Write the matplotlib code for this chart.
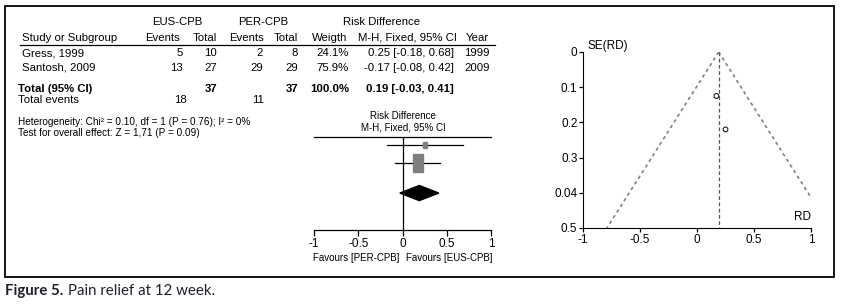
import matplotlib
matplotlib.use("Agg")
import matplotlib.pyplot as plt
import numpy as np
from matplotlib.patches import Rectangle, Polygon

# ---- data ----
studies = ["Gress, 1999", "Santosh, 2009"]
eus_events = [5, 13]
eus_total = [10, 27]
per_events = [2, 29]
per_total = [8, 29]
weights = [24.1, 75.9]
rd = [0.25, 0.17]            # plotted estimates
rd_printed = ["0.25", "-0.17"]  # as printed in the table
ci_lo = [-0.18, -0.08]
ci_hi = [0.68, 0.42]
years = [1999, 2009]
se_rd = [0.22, 0.125]

tot_eus, tot_per = 37, 37
ev_eus, ev_per = 18, 11
pooled, pooled_lo, pooled_hi = 0.19, -0.03, 0.41

rd_ticks = [-1, -0.5, 0, 0.5, 1]
rd_ticklabels = ["-1", "-0.5", "0", "0.5", "1"]
se_ticks = [0, 0.1, 0.2, 0.3, 0.4, 0.5]
se_ticklabels = ["0", "0.1", "0.2", "0.3", "0.04", "0.5"]

W, H = 850, 307
plt.rcParams["font.family"] = ["Liberation Sans Narrow", "Liberation Sans", "DejaVu Sans"]

fig = plt.figure(figsize=(W / 100, H / 100), dpi=100)


def fx(x):
    return x / W


def fy(y):
    return 1 - y / H


def put(x, y, s, ha="left", size=8, weight="normal", **kw):
    fig.text(fx(x), fy(y), s, ha=ha, va="center", fontsize=size, fontweight=weight, **kw)


# outer frame
fig.add_artist(Rectangle((fx(5), fy(277)), fx(834) - fx(5), fy(6) - fy(277),
                         transform=fig.transFigure, fill=False, lw=1.3, ec="black"))

# ---- table ----
fs = 8.2
put(177, 22, "EUS-CPB", ha="center", size=fs)
put(263, 22, "PER-CPB", ha="center", size=fs)
put(382, 22, "Risk Difference", ha="center", size=fs)
put(22, 38, "Study or Subgroup", size=fs)
put(163, 38, "Events", ha="center", size=fs)
put(217, 38, "Total", ha="right", size=fs)
put(247, 38, "Events", ha="center", size=fs)
put(298, 38, "Total", ha="right", size=fs)
put(330, 38, "Weigth", ha="center", size=fs)
put(407, 38, "M-H, Fixed, 95% CI", ha="center", size=fs)
put(477, 38, "Year", ha="center", size=fs)
fig.add_artist(plt.Line2D([fx(20), fx(495)], [fy(45), fy(45)], transform=fig.transFigure,
                          color="black", lw=0.9))

row_y = [53, 68]
for i, name in enumerate(studies):
    y = row_y[i]
    put(22, y, name, size=fs)
    put(183, y, str(eus_events[i]), ha="right", size=fs)
    put(217, y, str(eus_total[i]), ha="right", size=fs)
    put(263, y, str(per_events[i]), ha="right", size=fs)
    put(298, y, str(per_total[i]), ha="right", size=fs)
    put(349, y, f"{weights[i]:.1f}%", ha="right", size=fs)
    put(454, y, f"{rd_printed[i]} [{ci_lo[i]:.2f}, {ci_hi[i]:.2f}]", ha="right", size=fs)
    put(490, y, str(years[i]), ha="right", size=fs)

put(18, 89, "Total (95% CI)", size=fs, weight="bold")
put(217, 89, str(tot_eus), ha="right", size=fs, weight="bold")
put(298, 89, str(tot_per), ha="right", size=fs, weight="bold")
put(349, 89, f"{sum(weights):.1f}%", ha="right", size=fs, weight="bold")
put(454, 89, f"{pooled:.2f} [{pooled_lo:.2f}, {pooled_hi:.2f}]", ha="right", size=fs, weight="bold")
put(18, 100, "Total events", size=fs)
put(187, 100, str(ev_eus), ha="right", size=fs)
put(264, 100, str(ev_per), ha="right", size=fs)

put(18, 122, "Heterogeneity: Chi² = 0.10, df = 1 (P = 0.76); I² = 0%", size=7.2)
put(18, 133, "Test for overall effect: Z = 1,71 (P = 0.09)", size=7.2)

put(403, 116, "Risk Difference", ha="center", size=7)
put(403, 128, "M-H, Fixed, 95% CI", ha="center", size=7)

# ---- forest plot ----
axf = fig.add_axes([fx(314), fy(230), fx(491) - fx(314), fy(137) - fy(230)])
axf.set_xlim(-1, 1)
axf.set_ylim(4.72, -0.44)
for s in ["left", "right"]:
    axf.spines[s].set_visible(False)
axf.spines["top"].set_linewidth(0.9)
axf.spines["bottom"].set_linewidth(0.9)
axf.set_yticks([])
axf.set_xticks(rd_ticks)
axf.set_xticklabels(rd_ticklabels, fontsize=8.5)
axf.tick_params(axis="x", direction="out", length=4, width=0.9, pad=2)
axf.axvline(0, color="black", lw=0.9)

for i in range(len(studies)):
    axf.plot([ci_lo[i], ci_hi[i]], [i, i], color="black", lw=0.9)
    scale = weights[i] / max(weights)
    bw = 0.113 * scale ** 0.8
    bh = 1.0 * scale
    axf.add_patch(Rectangle((rd[i] - bw / 2, i - bh / 2), bw, bh, color="#7f7f7f", zorder=3))

dy = 2.67
axf.add_patch(Polygon([[pooled_lo, dy], [pooled, dy - 0.42], [pooled_hi, dy], [pooled, dy + 0.42]],
                      closed=True, color="black", zorder=3))

put(356, 258, "Favours [PER-CPB]", ha="center", size=7)
put(449, 258, "Favours [EUS-CPB]", ha="center", size=7)

# ---- funnel plot ----
axn = fig.add_axes([fx(583), fy(228), fx(811) - fx(583), fy(52) - fy(228)])
axn.set_xlim(-1, 1)
axn.set_ylim(0.5, 0)
axn.spines["top"].set_visible(False)
axn.spines["right"].set_visible(False)
axn.set_xticks(rd_ticks)
axn.set_xticklabels(rd_ticklabels, fontsize=8.5)
axn.set_yticks(se_ticks)
axn.set_yticklabels(se_ticklabels, fontsize=8.5)
axn.tick_params(direction="out", length=3, width=0.9, pad=1)

se_line = np.array([0, 0.5])
axn.plot(pooled - 1.96 * se_line, se_line, ls=(0, (2, 2)), color="#808080", lw=1.2)
axn.plot(pooled + 1.96 * se_line, se_line, ls=(0, (2, 2)), color="#808080", lw=1.2)
axn.plot([pooled, pooled], [0, 0.5], ls=(0, (3, 2)), color="#555555", lw=0.9)
axn.scatter(rd, se_rd, s=12, facecolors="none", edgecolors="black", linewidths=0.7, zorder=3)

put(587, 46, "SE(RD)", size=8.5)
put(811, 217, "RD", ha="right", size=8.5)

# caption
fig.text(fx(5), fy(291), "Figure 5.", fontsize=10.8, fontweight="bold", family="Lato",
         color="#1f1f2e", va="center")
fig.text(fx(68), fy(291), "Pain relief at 12 week.", fontsize=10.8, family="Lato",
         color="#1f1f2e", va="center")

fig.savefig("out.png", dpi=100)
